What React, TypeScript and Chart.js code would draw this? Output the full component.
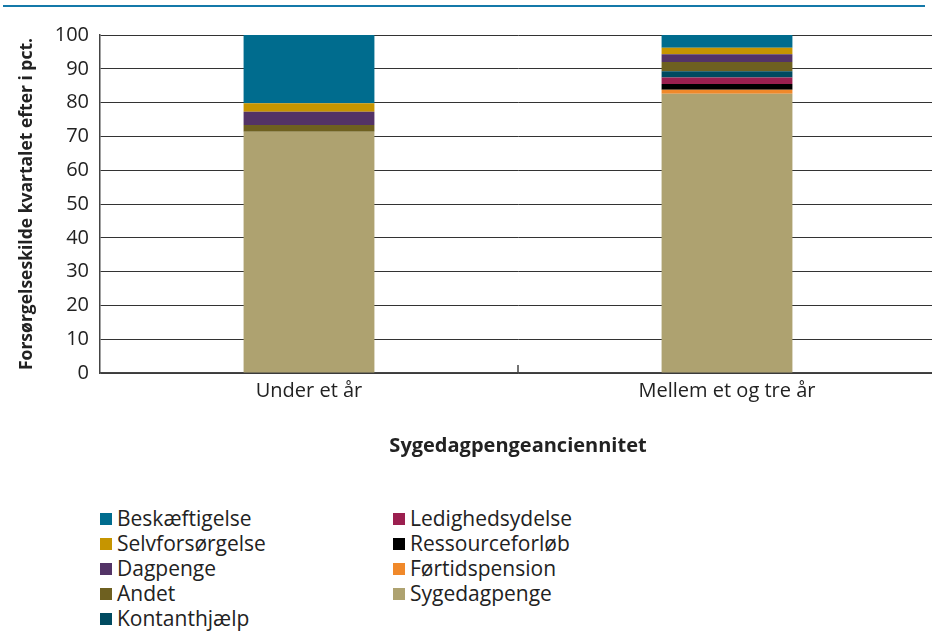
import React, { useEffect, useRef } from "react";
import { Chart, registerables } from "chart.js";

Chart.register(...registerables);

const categories = ["Under et år", "Mellem et og tre år"];
const yTicks = [0, 10, 20, 30, 40, 50, 60, 70, 80, 90, 100];

const sygedagpenge = [71.4, 82.6];
const foertidspension = [0, 1.2];
const ressourceforloeb = [0, 1.7];
const ledighedsydelse = [0, 1.9];
const kontanthjaelp = [0, 1.9];
const andet = [2.0, 2.7];
const dagpenge = [3.9, 2.3];
const selvforsoergelse = [2.5, 1.9];
const beskaeftigelse = [20.2, 3.8];

const seriesNames = [
  "Sygedagpenge",
  "Førtidspension",
  "Ressourceforløb",
  "Ledighedsydelse",
  "Kontanthjælp",
  "Andet",
  "Dagpenge",
  "Selvforsørgelse",
  "Beskæftigelse",
];
const seriesValues = [
  sygedagpenge,
  foertidspension,
  ressourceforloeb,
  ledighedsydelse,
  kontanthjaelp,
  andet,
  dagpenge,
  selvforsoergelse,
  beskaeftigelse,
];
const seriesColors = [
  "#AEA270",
  "#F0892A",
  "#000000",
  "#9B1F4F",
  "#004A60",
  "#6E6020",
  "#533366",
  "#C69500",
  "#006C8E",
];

const legendCol1 = ["Beskæftigelse", "Selvforsørgelse", "Dagpenge", "Andet", "Kontanthjælp"];
const legendCol2 = ["Ledighedsydelse", "Ressourceforløb", "Førtidspension", "Sygedagpenge"];

const FONT = "'Open Sans', 'DejaVu Sans', sans-serif";

const boundaryTick = {
  id: "boundaryTick",
  afterDatasetsDraw(chart: any) {
    const x = chart.scales.x;
    const ctx = chart.ctx;
    ctx.save();
    ctx.strokeStyle = "#444";
    ctx.lineWidth = 1.5;
    for (let i = 0; i < categories.length - 1; i++) {
      const px = (x.getPixelForValue(i) + x.getPixelForValue(i + 1)) / 2;
      ctx.beginPath();
      ctx.moveTo(px, chart.chartArea.bottom);
      ctx.lineTo(px, chart.chartArea.bottom - 8);
      ctx.stroke();
    }
    ctx.restore();
  },
};

function LegendItem({ name }: { name: string }) {
  const idx = seriesNames.indexOf(name);
  return (
    <div style={{ display: "flex", alignItems: "center", height: 25 }}>
      <span
        style={{
          display: "inline-block",
          width: 12,
          height: 12,
          background: seriesColors[idx],
          marginRight: 5,
        }}
      />
      <span style={{ fontFamily: FONT, fontSize: 21, color: "#222", lineHeight: "25px" }}>{name}</span>
    </div>
  );
}

export default function App() {
  const canvasRef = useRef<HTMLCanvasElement | null>(null);

  useEffect(() => {
    document.body.style.margin = "0";
    document.body.style.overflow = "hidden";
    const canvas = canvasRef.current;
    if (!canvas) return;
    const chart = new Chart(canvas, {
      type: "bar",
      data: {
        labels: categories,
        datasets: seriesNames.map((name, i) => ({
          label: name,
          data: seriesValues[i],
          backgroundColor: seriesColors[i],
          borderWidth: 0,
          barPercentage: 0.313,
          categoryPercentage: 1,
        })),
      },
      plugins: [boundaryTick],
      options: {
        animation: false,
        responsive: false,
        maintainAspectRatio: false,
        layout: { padding: { top: 35, right: 0, bottom: 0, left: 0 } },
        plugins: {
          legend: { display: false },
          tooltip: { enabled: false },
        },
        scales: {
          x: {
            stacked: true,
            grid: { display: false, drawTicks: false },
            border: { display: true, color: "#444", width: 1.5 },
            ticks: {
              color: "#222",
              padding: 6,
              font: { family: FONT, size: 20 },
            },
            title: {
              display: true,
              text: "Sygedagpengeanciennitet",
              color: "#222",
              font: { family: FONT, size: 20, weight: "bold" },
              padding: { top: 0, bottom: 12 },
            },
            afterFit(scale: any) {
              scale.height = 97;
            },
          },
          y: {
            stacked: true,
            min: 0,
            max: 100,
            afterBuildTicks(scale: any) {
              scale.ticks = yTicks.map((v) => ({ value: v }));
            },
            grid: { color: "#333", lineWidth: 1, drawTicks: false },
            border: { display: true, color: "#444", width: 1.5 },
            ticks: {
              color: "#222",
              padding: 11,
              font: { family: FONT, size: 20 },
            },
            title: {
              display: true,
              text: "Forsørgelseskilde kvartalet efter i pct.",
              color: "#222",
              font: { family: FONT, size: 17.5, weight: "bold" },
              padding: { top: 17, bottom: 0 },
            },
            afterFit(scale: any) {
              scale.width = 100;
            },
          },
        },
      },
    });
    return () => chart.destroy();
  }, []);

  return (
    <div style={{ position: "relative", width: 932, height: 631, overflow: "hidden", background: "#fff" }}>
      <div style={{ position: "absolute", left: 3, top: 5, width: 922, height: 2, background: "#1479A9" }} />
      <canvas
        ref={canvasRef}
        width={936}
        height={470}
        style={{ position: "absolute", left: 0, top: 0, width: 936, height: 470 }}
      />
      <div style={{ position: "absolute", left: 100, top: 506 }}>
        {legendCol1.map((n) => (
          <LegendItem key={n} name={n} />
        ))}
      </div>
      <div style={{ position: "absolute", left: 393, top: 506 }}>
        {legendCol2.map((n) => (
          <LegendItem key={n} name={n} />
        ))}
      </div>
    </div>
  );
}
